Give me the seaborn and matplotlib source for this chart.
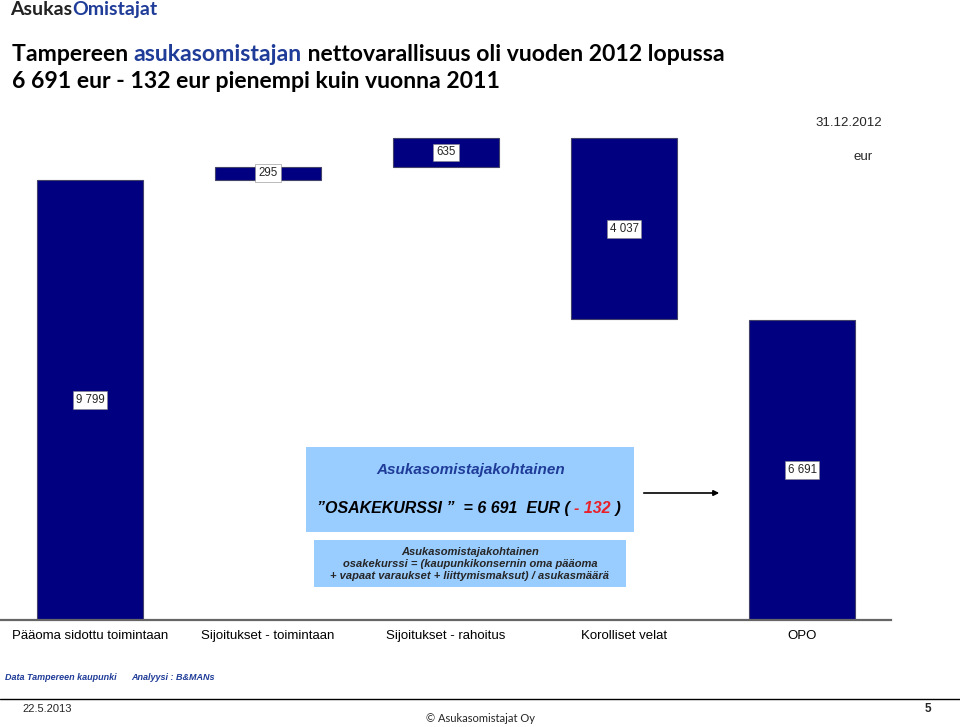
import numpy as np
import pandas as pd
import matplotlib
matplotlib.use("Agg")
import matplotlib.pyplot as plt
import seaborn as sns
from matplotlib.patches import Rectangle

# ─── Data ─────────────────────────────────────────────────────────────────────
categories = ["Pääoma sidottu toimintaan", "Sijoitukset - toimintaan",
              "Sijoitukset - rahoitus", "Korolliset velat", "OPO"]
changes = [9799, 295, 635, -4037, 6691]
value_labels = ["9 799", "295", "635", "4 037", "6 691"]
is_total = [False, False, False, False, True]

# waterfall geometry from the changes
bottoms, heights = [], []
running = 0
for v, tot in zip(changes, is_total):
    if tot:
        bottoms.append(0)
        heights.append(v)
    else:
        new = running + v
        bottoms.append(min(running, new))
        heights.append(abs(v))
        running = new
df = pd.DataFrame({"cat": categories, "height": heights, "bottom": bottoms})

W, H = 960, 727
NAVY = "#000080"
BLUE = "#1F3C98"
BOX = "#99CCFF"
BODY = ["Liberation Sans", "DejaVu Sans"]
HEAD = ["Lato", "DejaVu Sans"]


def fx(px):
    return px / W


def fy(py):
    return 1 - py / H


def rainbow(fig, x, y, parts, **kw):
    """Place coloured text pieces side by side on one baseline."""
    renderer = fig.canvas.get_renderer()
    for s, col in parts:
        t = fig.text(x, y, s, color=col, va="baseline", **kw)
        x += t.get_window_extent(renderer).width / W


sns.set_theme(style="white")
plt.rcParams["font.family"] = BODY

fig = plt.figure(figsize=(W / 100, H / 100), dpi=100)
ax = fig.add_axes([fx(1), fy(620), fx(890), (620 - 126) / H])

sns.barplot(data=df, x="cat", y="height", bottom=df["bottom"].values,
            color=NAVY, saturation=1, width=0.6, edgecolor="#44446a",
            linewidth=0.8, ax=ax)
ax.set_xlim(-0.5, 4.5)
ax.set_ylim(0, 11000)
ax.set_xlabel("")
ax.set_ylabel("")
ax.set_yticks([])
for s in ["top", "right", "left"]:
    ax.spines[s].set_visible(False)
ax.spines["bottom"].set_color("#666666")
ax.spines["bottom"].set_linewidth(1.6)
ax.tick_params(axis="x", length=0, pad=7, labelsize=9.5, colors="black")

for i, (b, h, lab) in enumerate(zip(bottoms, heights, value_labels)):
    ax.text(i, b + h / 2, lab, ha="center", va="center", fontsize=8.3,
            bbox=dict(boxstyle="square,pad=0.25", fc="white",
                      ec="#888888", lw=0.4))

# ─── Header ───────────────────────────────────────────────────────────────────
rainbow(fig, fx(10), fy(15), [("Asukas", "#222222"), ("Omistajat", BLUE)],
        fontsize=14, fontweight="bold", family=HEAD)

TS = 16.6
rainbow(fig, fx(12), fy(61),
        [("Tampereen ", "black"), ("asukasomistajan", BLUE),
         (" nettovarallisuus oli vuoden 2012 lopussa", "black")],
        fontsize=TS, fontweight="bold", family=HEAD)
rainbow(fig, fx(12), fy(88),
        [("6 691 eur - 132 eur pienempi kuin vuonna 2011", "black")],
        fontsize=TS, fontweight="bold", family=HEAD)

fig.text(fx(849), fy(123), "31.12.2012", fontsize=9.5, ha="center",
         va="center")
fig.text(fx(863), fy(157), "eur", fontsize=9.5, ha="center", va="center")

# ─── Info boxes ───────────────────────────────────────────────────────────────
fig.patches.append(Rectangle((fx(306), fy(532)), fx(634 - 306), (532 - 447) / H,
                             transform=fig.transFigure, fc=BOX, ec="none"))
fig.patches.append(Rectangle((fx(314), fy(587)), fx(626 - 314), (587 - 540) / H,
                             transform=fig.transFigure, fc=BOX, ec="none"))

fig.text(fx(471), fy(470), "Asukasomistajakohtainen", fontsize=11,
         fontweight="bold", style="italic", color=BLUE, ha="center",
         va="center")
rainbow(fig, fx(317), fy(513),
        [("\u201dOSAKEKURSSI \u201d  = 6 691  EUR ( ", "black"),
         ("- 132", "#E8202A"), (" )", "black")],
        fontsize=11.5, fontweight="bold", style="italic")

fig.text(fx(470), fy(564),
         "Asukasomistajakohtainen\nosakekurssi = (kaupunkikonsernin oma pääoma\n"
         "+ vapaat varaukset + liittymismaksut) / asukasmäärä",
         fontsize=8.0, fontweight="bold", style="italic", ha="center",
         va="center", linespacing=1.3)

ax.annotate("", xy=(fx(722), fy(493)), xytext=(fx(641), fy(493)),
            xycoords="figure fraction", textcoords="figure fraction",
            arrowprops=dict(arrowstyle="-|>", color="black", lw=1.2,
                            mutation_scale=8))

# ─── Footer ───────────────────────────────────────────────────────────────────
fig.text(fx(5), fy(677), "Data Tampereen kaupunki", fontsize=6.5,
         fontweight="bold", style="italic", color=BLUE, va="center")
fig.text(fx(131), fy(677), "Analyysi : B&MANs", fontsize=6.5,
         fontweight="bold", style="italic", color=BLUE, va="center")
fig.add_artist(plt.Line2D([0, 1], [fy(699), fy(699)], color="black", lw=1))
fig.text(fx(22), fy(709), "22.5.2013", fontsize=8, va="center")
fig.text(fx(928), fy(709), "5", fontsize=8.5, fontweight="bold", ha="center",
         va="center")
fig.text(fx(480), fy(719), "\u00a9 Asukasomistajat Oy", fontsize=8,
         family=HEAD, ha="center", va="center")

fig.savefig("out.png", dpi=100)
